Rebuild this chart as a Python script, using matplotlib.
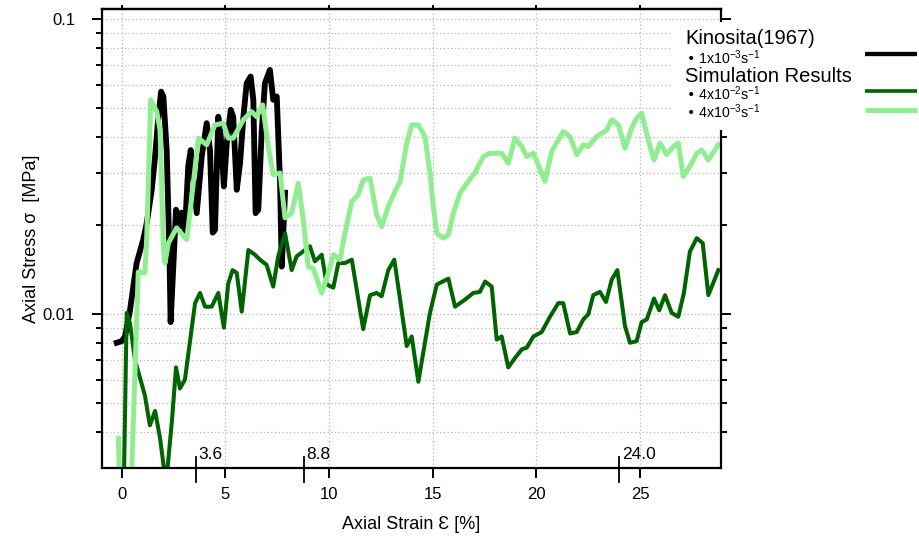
import matplotlib
matplotlib.use("Agg")
import matplotlib.pyplot as plt
from matplotlib.ticker import FixedLocator, NullLocator, NullFormatter, LogLocator
from matplotlib.lines import Line2D
from matplotlib.patches import Rectangle

plt.rcParams["font.family"] = ["Liberation Sans", "DejaVu Sans"]

# ---- data -------------------------------------------------------------
kinosita_strain = [-0.24, 0.0, 0.16, 0.40, 0.72, 1.04, 1.21, 1.45, 1.61, 1.77, 1.90, 2.01,
                   2.17, 2.30, 2.36, 2.49, 2.62, 2.78, 2.89, 3.05, 3.21, 3.33, 3.45, 3.62,
                   3.86, 4.10, 4.26, 4.39, 4.50, 4.66, 4.78, 4.93, 5.07, 5.26, 5.38, 5.55,
                   5.71, 5.87, 6.03, 6.22, 6.35, 6.46, 6.59, 6.75, 6.91, 7.15, 7.31, 7.48,
                   7.64, 7.72, 7.88]
kinosita_stress = [0.0080, 0.0081, 0.0084, 0.0103, 0.0149, 0.0179, 0.0204, 0.0264, 0.0342,
                   0.0467, 0.0568, 0.0547, 0.0360, 0.0165, 0.0094, 0.0145, 0.0226, 0.0198,
                   0.0221, 0.0191, 0.0317, 0.0360, 0.0293, 0.0220, 0.0342, 0.0444, 0.0360,
                   0.0189, 0.0193, 0.0467, 0.0400, 0.0271, 0.0380, 0.0493, 0.0467, 0.0264,
                   0.0325, 0.0467, 0.0607, 0.0639, 0.0533, 0.0220, 0.0226, 0.0411, 0.0607,
                   0.0673, 0.0533, 0.0547, 0.0279, 0.0145, 0.0258]

fast_strain = [0.10, 0.24, 0.40, 0.64, 0.88, 1.12, 1.36, 1.61, 1.85, 2.04, 2.19, 2.43, 2.62,
               2.81, 3.05, 3.54, 3.78, 4.02, 4.34, 4.66, 4.93, 5.14, 5.35, 5.55, 5.79, 6.11,
               6.43, 6.67, 6.99, 7.31, 7.55, 7.88, 8.20, 8.44, 8.84, 9.08, 9.32, 9.65, 9.89,
               10.21, 10.45, 10.77, 11.10, 11.65, 11.98, 12.30, 12.54, 12.86, 13.15, 13.43,
               13.75, 13.99, 14.31, 14.87, 15.20, 15.76, 16.08, 16.56, 16.96, 17.28, 17.53,
               17.85, 18.09, 18.33, 18.65, 18.97, 19.30, 19.54, 19.86, 20.26, 20.66, 21.06,
               21.30, 21.63, 21.95, 22.27, 22.51, 22.75, 23.07, 23.36, 23.64, 23.91, 24.28,
               24.52, 24.84, 25.08, 25.33, 25.68, 25.93, 26.21, 26.53, 26.85, 27.12, 27.41,
               27.74, 28.03, 28.30, 28.78]
fast_stress = [0.0025, 0.0101, 0.0093, 0.0070, 0.0061, 0.0053, 0.0042, 0.0047, 0.0038, 0.0030,
               0.0029, 0.0044, 0.0066, 0.0056, 0.0060, 0.0109, 0.0118, 0.0106, 0.0106, 0.0118,
               0.0090, 0.0127, 0.0141, 0.0138, 0.0102, 0.0165, 0.0159, 0.0153, 0.0147, 0.0124,
               0.0157, 0.0188, 0.0141, 0.0157, 0.0165, 0.0170, 0.0151, 0.0159, 0.0126, 0.0123,
               0.0149, 0.0149, 0.0153, 0.0089, 0.0116, 0.0118, 0.0115, 0.0141, 0.0153, 0.0112,
               0.0078, 0.0084, 0.0059, 0.0101, 0.0126, 0.0132, 0.0106, 0.0112, 0.0118, 0.0119,
               0.0129, 0.0124, 0.0082, 0.0084, 0.0066, 0.0071, 0.0076, 0.0077, 0.0084, 0.0087,
               0.0098, 0.0109, 0.0109, 0.0086, 0.0087, 0.0096, 0.0100, 0.0116, 0.0119, 0.0110,
               0.0131, 0.0141, 0.0091, 0.0080, 0.0081, 0.0094, 0.0096, 0.0113, 0.0103, 0.0116,
               0.0101, 0.0098, 0.0118, 0.0163, 0.0181, 0.0174, 0.0116, 0.0141]

slow_strain = [-0.16, -0.08, 0.45, 0.80, 1.12, 1.21, 1.40, 1.69, 1.85, 2.01, 2.09, 2.25, 2.65,
               3.14, 3.38, 3.70, 4.10, 4.50, 4.90, 5.14, 5.38, 5.87, 6.27, 6.51, 6.80, 7.07,
               7.31, 7.64, 7.88, 8.20, 8.52, 8.76, 9.00, 9.24, 9.65, 9.97, 10.21, 10.53, 10.77,
               11.10, 11.41, 11.65, 11.98, 12.30, 12.54, 12.86, 13.18, 13.43, 13.75, 13.99,
               14.31, 14.63, 14.87, 15.03, 15.20, 15.51, 15.76, 16.00, 16.32, 16.72, 17.04,
               17.44, 17.77, 18.01, 18.33, 18.65, 18.97, 19.30, 19.54, 19.86, 20.42, 20.74,
               21.30, 21.63, 21.95, 22.27, 22.51, 22.91, 23.40, 23.64, 23.96, 24.28, 24.60,
               24.84, 25.08, 25.40, 25.68, 25.97, 26.29, 26.61, 26.85, 27.09, 27.41, 27.74,
               27.98, 28.30, 28.78]
slow_stress = [0.0038, 0.0025, 0.0025, 0.0139, 0.0138, 0.0183, 0.0533, 0.0486, 0.0421, 0.0170,
               0.0149, 0.0174, 0.0196, 0.0179, 0.0250, 0.0395, 0.0375, 0.0438, 0.0444, 0.0395,
               0.0395, 0.0456, 0.0486, 0.0467, 0.0512, 0.0370, 0.0297, 0.0301, 0.0212, 0.0220,
               0.0278, 0.0209, 0.0145, 0.0143, 0.0118, 0.0138, 0.0159, 0.0153, 0.0188, 0.0241,
               0.0254, 0.0285, 0.0289, 0.0217, 0.0198, 0.0232, 0.0260, 0.0282, 0.0380, 0.0438,
               0.0438, 0.0400, 0.0301, 0.0232, 0.0188, 0.0181, 0.0186, 0.0220, 0.0257, 0.0282,
               0.0301, 0.0342, 0.0351, 0.0351, 0.0351, 0.0325, 0.0395, 0.0370, 0.0342, 0.0351,
               0.0282, 0.0356, 0.0416, 0.0400, 0.0347, 0.0375, 0.0370, 0.0400, 0.0421, 0.0456,
               0.0438, 0.0365, 0.0427, 0.0462, 0.0480, 0.0390, 0.0333, 0.0380, 0.0347, 0.0370,
               0.0380, 0.0293, 0.0317, 0.0351, 0.0360, 0.0333, 0.0375]

marker_strains = [3.6, 8.8, 24.0]
marker_labels = ["3.6", "8.8", "24.0"]

x_ticks = [0, 5, 10, 15, 20, 25]
y_ticks = [0.01, 0.1]
y_tick_labels = ["0.01", "0.1"]

# ---- figure ---------------------------------------------------------------
W, H = 919, 537
fig = plt.figure(figsize=(W / 100, H / 100), dpi=100)


def fx(px):
    return px / W


def fy(py):
    return 1 - py / H


ax = fig.add_axes([fx(101.5), fy(468), (721 - 101.5) / W, (468 - 9.3) / H])
ax.set_yscale("log")
ax.set_xlim(-0.974, 28.91)
ax.set_ylim(0.00301, 0.108)

ax.xaxis.set_major_locator(FixedLocator(x_ticks))
ax.xaxis.set_minor_locator(NullLocator())
ax.yaxis.set_major_locator(FixedLocator(y_ticks))
ax.set_yticklabels(y_tick_labels)
ax.yaxis.set_minor_locator(LogLocator(base=10, subs=range(2, 10)))
ax.yaxis.set_minor_formatter(NullFormatter())

ax.tick_params(which="both", direction="out", right=True, width=1.4,
               labelsize=12, colors="black")
ax.tick_params(axis="x", which="major", length=7, pad=7)
ax.tick_params(axis="y", which="major", length=7, pad=12)
ax.tick_params(which="minor", length=4)
for s in ax.spines.values():
    s.set_linewidth(1.6)

# short mirrored ticks along the top edge
top = ax.secondary_xaxis("top")
top.xaxis.set_major_locator(FixedLocator(x_ticks))
top.tick_params(direction="out", length=3, width=1.4, labeltop=False)
top.spines["top"].set_linewidth(1.6)

grid_kw = dict(color="#b5b5b5", linestyle=(0, (1, 2)), linewidth=0.9)
ax.grid(True, which="major", axis="x", **grid_kw)
ax.grid(True, which="both", axis="y", **grid_kw)
ax.set_axisbelow(True)

ax.plot(kinosita_strain, kinosita_stress, color="black", lw=4.2, solid_joinstyle="round")
ax.plot(fast_strain, fast_stress, color="#006400", lw=2.9, solid_joinstyle="round")
ax.plot(slow_strain, slow_stress, color="#90ee90", lw=3.6, solid_joinstyle="round")

# strain markers straddling the bottom axis
xform = ax.get_xaxis_transform()
for xv, lab in zip(marker_strains, marker_labels):
    ax.plot([xv, xv], [-0.031, 0.025], transform=xform, color="black", lw=1.3,
            clip_on=False, zorder=5)
    ax.text(xv + 0.12, 0.02, lab, transform=xform, fontsize=12.5, ha="left",
            va="baseline", zorder=5)

ax.set_xlabel("Axial Strain \u0190 [%]", fontsize=13, labelpad=10)
ax.set_ylabel("Axial Stress \u03c3  [MPa]", fontsize=13, labelpad=2)

# ---- legend block -------------------------------------------------------
fig.patches.append(Rectangle((fx(672), fy(130)), (W - 672) / W, (130 - 22) / H,
                             transform=fig.transFigure, facecolor="white",
                             edgecolor="none", zorder=1))

fig.text(fx(685), fy(38), "Kinosita(1967)", fontsize=14.5, ha="left", va="center")
fig.text(fx(686), fy(57.5), r"• 1x10$^{\mathregular{-3}}$s$^{\mathregular{-1}}$",
         fontsize=10.2, ha="left", va="center")
fig.text(fx(685), fy(76), "Simulation Results", fontsize=14.5, ha="left", va="center")
fig.text(fx(686), fy(94), r"• 4x10$^{\mathregular{-2}}$s$^{\mathregular{-1}}$",
         fontsize=10.2, ha="left", va="center")
fig.text(fx(686), fy(111.5), r"• 4x10$^{\mathregular{-3}}$s$^{\mathregular{-1}}$",
         fontsize=10.2, ha="left", va="center")

for yy, col, lw in [(54.3, "black", 3.1), (91.0, "#006400", 2.6), (110.0, "#90ee90", 3.7)]:
    fig.lines.append(Line2D([fx(865), fx(917)], [fy(yy), fy(yy)], transform=fig.transFigure,
                            color=col, lw=lw, solid_capstyle="butt"))

fig.savefig("out.png", dpi=100)
